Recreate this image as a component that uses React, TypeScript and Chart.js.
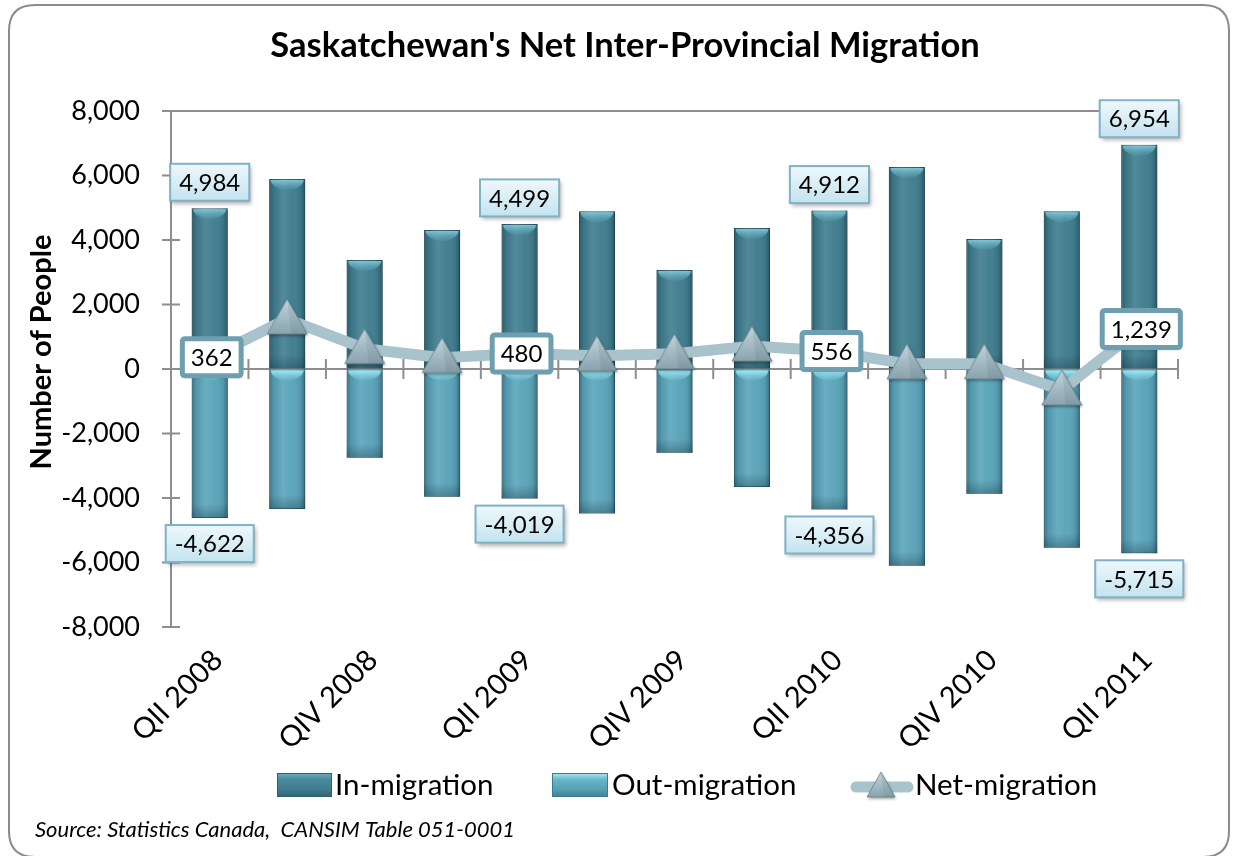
import React, { useEffect, useRef } from "react";
import { Chart, registerables } from "chart.js";

Chart.register(...registerables);

const FONT = "Lato, 'Liberation Sans', Arial, sans-serif";

const categories = [
  "QII 2008", "QIII 2008", "QIV 2008", "QI 2009", "QII 2009", "QIII 2009", "QIV 2009",
  "QI 2010", "QII 2010", "QIII 2010", "QIV 2010", "QI 2011", "QII 2011",
];
const inMigration = [4984, 5890, 3380, 4310, 4499, 4890, 3070, 4370, 4912, 6260, 4030, 4890, 6954];
const outMigration = [-4622, -4340, -2750, -3960, -4019, -4480, -2600, -3660, -4356, -6100, -3870, -5540, -5715];
const netMigration = [362, 1550, 630, 350, 480, 410, 470, 710, 556, 160, 160, -650, 1239];
const labelledIndices = [0, 4, 8, 12];
const shownTickIndices = [0, 2, 4, 6, 8, 10, 12];
const seriesNames = ["In-migration", "Out-migration", "Net-migration"];
const yMin = -8000;
const yMax = 8000;
const yStep = 2000;
const titleText = "Saskatchewan's Net Inter-Provincial Migration";
const yAxisTitle = "Number of People";
const sourceText = "Source: Statistics Canada,  CANSIM Table 051-0001";

const fmt = (v: number) => v.toLocaleString("en-US");

function drawTriangle(ctx: CanvasRenderingContext2D, cx: number, top: number, w: number, h: number) {
  ctx.save();
  ctx.shadowColor = "rgba(0,0,0,0.35)";
  ctx.shadowBlur = 3;
  ctx.shadowOffsetX = 1;
  ctx.shadowOffsetY = 2;
  const g = ctx.createLinearGradient(0, top, 0, top + h);
  g.addColorStop(0, "#c3d5dc");
  g.addColorStop(0.55, "#a3bac3");
  g.addColorStop(1, "#8aa3ad");
  ctx.beginPath();
  ctx.moveTo(cx, top);
  ctx.lineTo(cx + w / 2, top + h);
  ctx.lineTo(cx - w / 2, top + h);
  ctx.closePath();
  ctx.fillStyle = g;
  ctx.fill();
  ctx.restore();
  ctx.save();
  ctx.beginPath();
  ctx.moveTo(cx, top);
  ctx.lineTo(cx + w / 2, top + h);
  ctx.lineTo(cx - w / 2, top + h);
  ctx.closePath();
  ctx.strokeStyle = "rgba(105,130,140,0.8)";
  ctx.lineWidth = 1;
  ctx.stroke();
  ctx.beginPath();
  ctx.moveTo(cx, top);
  ctx.lineTo(cx + w / 2, top + h);
  ctx.lineTo(cx + w * 0.1, top + h);
  ctx.closePath();
  ctx.fillStyle = "rgba(60,90,100,0.12)";
  ctx.fill();
  ctx.restore();
}

function makeTriangleImage() {
  const c = document.createElement("canvas");
  c.width = 46;
  c.height = 46;
  const ctx = c.getContext("2d")!;
  drawTriangle(ctx, 23, 3, 40, 35);
  return c;
}

function roundRect(ctx: CanvasRenderingContext2D, x: number, y: number, w: number, h: number, r: number) {
  ctx.beginPath();
  ctx.moveTo(x + r, y);
  ctx.lineTo(x + w - r, y);
  ctx.quadraticCurveTo(x + w, y, x + w, y + r);
  ctx.lineTo(x + w, y + h - r);
  ctx.quadraticCurveTo(x + w, y + h, x + w - r, y + h);
  ctx.lineTo(x + r, y + h);
  ctx.quadraticCurveTo(x, y + h, x, y + h - r);
  ctx.lineTo(x, y + r);
  ctx.quadraticCurveTo(x, y, x + r, y);
  ctx.closePath();
}

const LABEL_FONT = `24px ${FONT}`;

function drawBlueBox(ctx: CanvasRenderingContext2D, cx: number, top: number, text: string) {
  ctx.save();
  ctx.font = LABEL_FONT;
  const tw = ctx.measureText(text).width;
  const w = tw + 18;
  const h = 37;
  const x = cx - w / 2;
  ctx.shadowColor = "rgba(0,0,0,0.3)";
  ctx.shadowBlur = 4;
  ctx.shadowOffsetX = 2;
  ctx.shadowOffsetY = 3;
  const g = ctx.createLinearGradient(0, top, 0, top + h);
  g.addColorStop(0, "#eef8fc");
  g.addColorStop(1, "#c4e3ef");
  ctx.fillStyle = g;
  ctx.fillRect(x, top, w, h);
  ctx.shadowColor = "transparent";
  ctx.strokeStyle = "#7fb2c5";
  ctx.lineWidth = 2;
  ctx.strokeRect(x, top, w, h);
  ctx.fillStyle = "#000";
  ctx.textAlign = "center";
  ctx.textBaseline = "middle";
  ctx.fillText(text, cx, top + h / 2 + 1);
  ctx.restore();
}

function drawNetBox(ctx: CanvasRenderingContext2D, cx: number, cy: number, text: string) {
  ctx.save();
  ctx.font = LABEL_FONT;
  const tw = ctx.measureText(text).width;
  const w = tw + 22;
  const h = 42;
  const x = cx - w / 2;
  const y = cy - h / 2;
  ctx.shadowColor = "rgba(0,0,0,0.2)";
  ctx.shadowBlur = 3;
  ctx.shadowOffsetX = 1;
  ctx.shadowOffsetY = 2;
  roundRect(ctx, x + 2.5, y + 2.5, w - 5, h - 5, 3);
  ctx.fillStyle = "#ffffff";
  ctx.fill();
  ctx.shadowColor = "transparent";
  ctx.strokeStyle = "#6e9fb1";
  ctx.lineWidth = 5;
  ctx.stroke();
  ctx.fillStyle = "#000";
  ctx.textAlign = "center";
  ctx.textBaseline = "middle";
  ctx.fillText(text, cx, cy + 1);
  ctx.restore();
}

function drawBarIcon(ctx: CanvasRenderingContext2D, x: number, y: number, w: number, h: number, isIn: boolean) {
  ctx.save();
  const g = ctx.createLinearGradient(0, y, 0, y + h);
  if (isIn) {
    g.addColorStop(0, "#6fb0c2");
    g.addColorStop(0.25, "#4a8a9c");
    g.addColorStop(0.7, "#3e7b8d");
    g.addColorStop(1, "#2f6272");
  } else {
    g.addColorStop(0, "#a6ebf7");
    g.addColorStop(0.3, "#66b3c8");
    g.addColorStop(0.7, "#569fb5");
    g.addColorStop(1, "#427f93");
  }
  ctx.fillStyle = g;
  ctx.fillRect(x, y, w, h);
  ctx.strokeStyle = isIn ? "#2f5f6e" : "#3f7b8f";
  ctx.lineWidth = 1;
  ctx.strokeRect(x + 0.5, y + 0.5, w - 1, h - 1);
  ctx.restore();
}

export default function App() {
  const canvasRef = useRef<HTMLCanvasElement | null>(null);

  useEffect(() => {
    const canvas = canvasRef.current;
    if (!canvas) return;
    const triImg = makeTriangleImage();

    const framePlugin = {
      id: "frame",
      beforeDraw(chart: any) {
        const ctx = chart.ctx as CanvasRenderingContext2D;
        ctx.save();
        ctx.fillStyle = "#ffffff";
        ctx.fillRect(0, 0, chart.width, chart.height);
        roundRect(ctx, 9, 5, 1220, 852, 26);
        ctx.strokeStyle = "#8c8c8c";
        ctx.lineWidth = 2;
        ctx.stroke();
        ctx.restore();
      },
    };

    const axesPlugin = {
      id: "customAxes",
      beforeDatasetsDraw(chart: any) {
        const ctx = chart.ctx as CanvasRenderingContext2D;
        const area = chart.chartArea;
        const xs = chart.scales.x;
        const ys = chart.scales.y;
        const zeroY = ys.getPixelForValue(0);
        ctx.save();
        ctx.strokeStyle = "#8e8e8e";
        ctx.lineWidth = 2;
        ctx.beginPath();
        ctx.moveTo(area.left, area.top);
        ctx.lineTo(area.left, area.bottom);
        ctx.moveTo(area.left, area.top);
        ctx.lineTo(area.right, area.top);
        ys.ticks.forEach((t: any) => {
          const py = ys.getPixelForValue(t.value);
          ctx.moveTo(area.left - 9, py);
          ctx.lineTo(area.left + 9, py);
        });
        ctx.moveTo(area.left, zeroY);
        ctx.lineTo(area.right, zeroY);
        const step = xs.getPixelForValue(1) - xs.getPixelForValue(0);
        for (let k = 0; k <= categories.length; k++) {
          const px = xs.getPixelForValue(k) - step / 2;
          ctx.moveTo(px, zeroY - 10);
          ctx.lineTo(px, zeroY + 10);
        }
        ctx.stroke();
        ctx.restore();
      },
    };

    const barStylePlugin = {
      id: "barStyle",
      beforeDatasetDraw(chart: any, args: any) {
        if (args.meta.type !== "bar") return;
        const ctx = chart.ctx as CanvasRenderingContext2D;
        ctx.save();
        ctx.shadowColor = "rgba(0,0,0,0.28)";
        ctx.shadowBlur = 4;
        ctx.shadowOffsetX = 2;
        ctx.shadowOffsetY = 2;
      },
      afterDatasetDraw(chart: any, args: any) {
        if (args.meta.type !== "bar") return;
        const ctx = chart.ctx as CanvasRenderingContext2D;
        ctx.restore();
        const isIn = args.index === 1;
        ctx.save();
        args.meta.data.forEach((el: any) => {
          const p = el.getProps(["x", "y", "base", "width"], true);
          const left = p.x - p.width / 2;
          const right = p.x + p.width / 2;
          const top = Math.min(p.y, p.base);
          const bottom = Math.max(p.y, p.base);
          const hgt = bottom - top;
          const g = ctx.createLinearGradient(left, 0, right, 0);
          g.addColorStop(0, "rgba(10,40,50,0.40)");
          g.addColorStop(0.12, "rgba(10,40,50,0.10)");
          g.addColorStop(0.38, "rgba(255,255,255,0.10)");
          g.addColorStop(0.62, "rgba(255,255,255,0.03)");
          g.addColorStop(0.88, "rgba(10,40,50,0.10)");
          g.addColorStop(1, "rgba(10,40,50,0.45)");
          ctx.fillStyle = g;
          ctx.fillRect(left, top, p.width, hgt);
          const bh = Math.min(14, hgt / 3);
          const bg = ctx.createLinearGradient(0, bottom - bh, 0, bottom);
          bg.addColorStop(0, "rgba(10,40,50,0)");
          bg.addColorStop(1, "rgba(10,40,50,0.3)");
          ctx.fillStyle = bg;
          ctx.fillRect(left, bottom - bh, p.width, bh);
          const capH = 11;
          const cg = ctx.createLinearGradient(0, top, 0, top + capH);
          if (isIn) {
            cg.addColorStop(0, "rgba(135,210,225,0.95)");
            cg.addColorStop(1, "rgba(100,175,195,0.15)");
          } else {
            cg.addColorStop(0, "rgba(170,240,250,1)");
            cg.addColorStop(1, "rgba(130,215,235,0.15)");
          }
          ctx.beginPath();
          ctx.moveTo(left + 1.5, top + 1);
          ctx.lineTo(right - 1.5, top + 1);
          ctx.bezierCurveTo(right - 2, top + capH * 0.6, right - p.width * 0.25, top + capH, p.x, top + capH);
          ctx.bezierCurveTo(left + p.width * 0.25, top + capH, left + 2, top + capH * 0.6, left + 1.5, top + 1);
          ctx.closePath();
          ctx.fillStyle = cg;
          ctx.fill();
        });
        ctx.restore();
      },
    };

    const labelsPlugin = {
      id: "dataLabels",
      afterDatasetsDraw(chart: any) {
        const ctx = chart.ctx as CanvasRenderingContext2D;
        const inMeta = chart.getDatasetMeta(1);
        const outMeta = chart.getDatasetMeta(2);
        const netMeta = chart.getDatasetMeta(0);
        labelledIndices.forEach((i) => {
          const a = inMeta.data[i].getProps(["x", "y"], true);
          drawBlueBox(ctx, a.x, a.y - 7.5 - 37, fmt(inMigration[i]));
          const b = outMeta.data[i].getProps(["x", "y"], true);
          drawBlueBox(ctx, b.x, b.y + 7, fmt(outMigration[i]));
          const c = netMeta.data[i].getProps(["x", "y"], true);
          drawNetBox(ctx, c.x + 2, c.y, fmt(netMigration[i]));
        });
      },
    };

    const textPlugin = {
      id: "texts",
      afterDraw(chart: any) {
        const ctx = chart.ctx as CanvasRenderingContext2D;
        const area = chart.chartArea;
        ctx.save();
        ctx.fillStyle = "#000";
        ctx.font = `bold 34.5px ${FONT}`;
        ctx.textAlign = "center";
        ctx.textBaseline = "middle";
        ctx.fillText(titleText, 625, 46);
        ctx.save();
        ctx.translate(42, (area.top + area.bottom) / 2 - 17);
        ctx.rotate(-Math.PI / 2);
        ctx.font = `bold 29px ${FONT}`;
        ctx.fillText(yAxisTitle, 0, 0);
        ctx.restore();
        const ly = 785;
        ctx.font = `29.5px ${FONT}`;
        ctx.textAlign = "left";
        ctx.textBaseline = "middle";
        drawBarIcon(ctx, 277, ly - 12, 55, 24, true);
        ctx.fillText(seriesNames[0], 335, ly);
        drawBarIcon(ctx, 552, ly - 12, 56, 24, false);
        ctx.fillText(seriesNames[1], 612, ly);
        ctx.save();
        ctx.strokeStyle = "#a9c3cc";
        ctx.lineWidth = 11;
        ctx.lineCap = "round";
        ctx.beginPath();
        ctx.moveTo(856, ly + 2);
        ctx.lineTo(908, ly + 2);
        ctx.stroke();
        ctx.restore();
        drawTriangle(ctx, 881, ly - 13, 28, 25);
        ctx.fillText(seriesNames[2], 915, ly);
        ctx.font = `italic 22px ${FONT}`;
        ctx.fillText(sourceText, 35, 830);
        ctx.restore();
      },
    };

    const chart = new Chart(canvas, {
      type: "bar",
      data: {
        labels: categories,
        datasets: [
          {
            type: "line",
            label: seriesNames[2],
            data: netMigration,
            borderColor: "#a9c3cc",
            borderWidth: 11,
            borderJoinStyle: "round",
            borderCapStyle: "round",
            tension: 0,
            pointStyle: triImg as any,
            pointRadius: 20,
            order: 0,
          } as any,
          {
            type: "bar",
            label: seriesNames[0],
            data: inMigration,
            backgroundColor: "#3f7c8e",
            borderColor: "#2f5e6d",
            borderWidth: 1,
            grouped: false,
            barPercentage: 0.465,
            categoryPercentage: 1,
            order: 1,
          } as any,
          {
            type: "bar",
            label: seriesNames[1],
            data: outMigration,
            backgroundColor: "#5aa3b9",
            borderColor: "#44859a",
            borderWidth: 1,
            grouped: false,
            barPercentage: 0.465,
            categoryPercentage: 1,
            order: 1,
          } as any,
        ],
      },
      options: {
        responsive: false,
        animation: false,
        devicePixelRatio: 1,
        events: [],
        layout: { padding: { top: 111, left: 0, right: 61, bottom: 99 } },
        plugins: {
          legend: { display: false },
          title: { display: false },
          tooltip: { enabled: false },
        },
        scales: {
          x: {
            offset: true,
            grid: { display: false, drawTicks: false },
            border: { display: false },
            ticks: {
              autoSkip: false,
              minRotation: 45,
              maxRotation: 45,
              padding: 16,
              labelOffset: 8,
              color: "#000",
              font: { family: FONT, size: 29 },
              callback: (_v: any, idx: number) => (shownTickIndices.includes(idx) ? categories[idx] : ""),
            },
            afterFit: (scale: any) => {
              scale.height = 130;
            },
          },
          y: {
            min: yMin,
            max: yMax,
            grid: { display: true, drawOnChartArea: false, drawTicks: true, tickLength: 9, color: "rgba(0,0,0,0)" },
            border: { display: false },
            ticks: {
              stepSize: yStep,
              padding: 22,
              color: "#000",
              font: { family: FONT, size: 27 },
              callback: (v: any) => fmt(Number(v)),
            },
            afterFit: (scale: any) => {
              scale.width = 171;
            },
          },
        },
      } as any,
      plugins: [framePlugin, axesPlugin, barStylePlugin, labelsPlugin, textPlugin],
    });

    return () => chart.destroy();
  }, []);

  return (
    <div style={{ position: "absolute", left: 0, top: 0, width: 1239, height: 856, background: "#fff" }}>
      <canvas ref={canvasRef} width={1239} height={856} style={{ display: "block", width: 1239, height: 856 }} />
    </div>
  );
}
